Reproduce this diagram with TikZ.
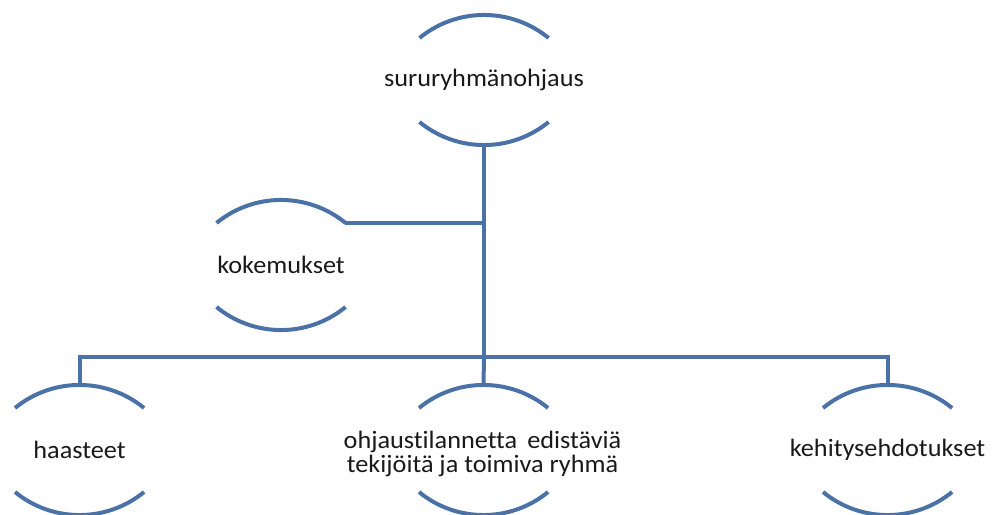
\documentclass[tikz,border=0pt]{standalone}
\usepackage{fontspec}
\setmainfont{Carlito}[FakeStretch=1.05, Ligatures={NoCommon}]
\usetikzlibrary{calc}
\definecolor{linkblue}{RGB}{74,114,166}
\tikzset{
  every picture/.style={x=1pt,y=1pt},
  lbl/.style={font=\fontsize{25}{24}\selectfont, text=black!90, align=center, inner sep=0pt},
  conn/.style={draw=linkblue, line width=4pt},
  bracketarc/.style={draw=linkblue, line width=4pt},
}
% upper and lower arcs framing a label
\newcommand\arcpair[1]{%
  \draw[bracketarc] ($(#1)+(-64.5,42)$) arc[start angle=129.3, end angle=50.7, radius=101.9];
  \draw[bracketarc] ($(#1)+(-64.5,-42)$) arc[start angle=230.7, end angle=309.3, radius=101.9];
}
\begin{document}
\begin{tikzpicture}
\useasboundingbox (0,0) rectangle (993,-514);

\node[lbl] (root) at (484,-80) {sururyhmänohjaus};
\node[lbl] (exp)  at (281,-265) {kokemukset};
\node[lbl] (chal) at (79.5,-450) {haasteet};
\node[lbl] (good) at (482.5,-454) {ohjaustilannetta\, edistäviä\\tekijöitä ja toimiva ryhmä};
\node[lbl] (dev)  at (887.5,-450) {kehitysehdotukset};

\arcpair{root}
\arcpair{exp}
\arcpair{chal}
\arcpair{dev}
\draw[bracketarc] ($(good)+(-63.5,46)$) arc[start angle=129.3, end angle=50.7, radius=101.9];
\draw[bracketarc] ($(good)+(-63.5,-38)$) arc[start angle=230.7, end angle=309.3, radius=101.9];

% connector anchor points on the arcs
\coordinate (rootB) at ($(root)+(0,-65)$);
\coordinate (expR)  at ($(exp)+(64,42)$);
\coordinate (chalT) at ($(chal)+(0,65)$);
\coordinate (goodT) at ($(good)+(1,69)$);
\coordinate (devT)  at ($(dev)+(0,65)$);
\coordinate (bus)   at (484,-357);

\draw[conn] (rootB) -- (bus);
\draw[conn] (expR) -- (expR -| rootB);
\draw[conn] (chalT) |- (bus) -| (devT);
\draw[conn] (bus) -- (goodT);
\end{tikzpicture}
\end{document}
